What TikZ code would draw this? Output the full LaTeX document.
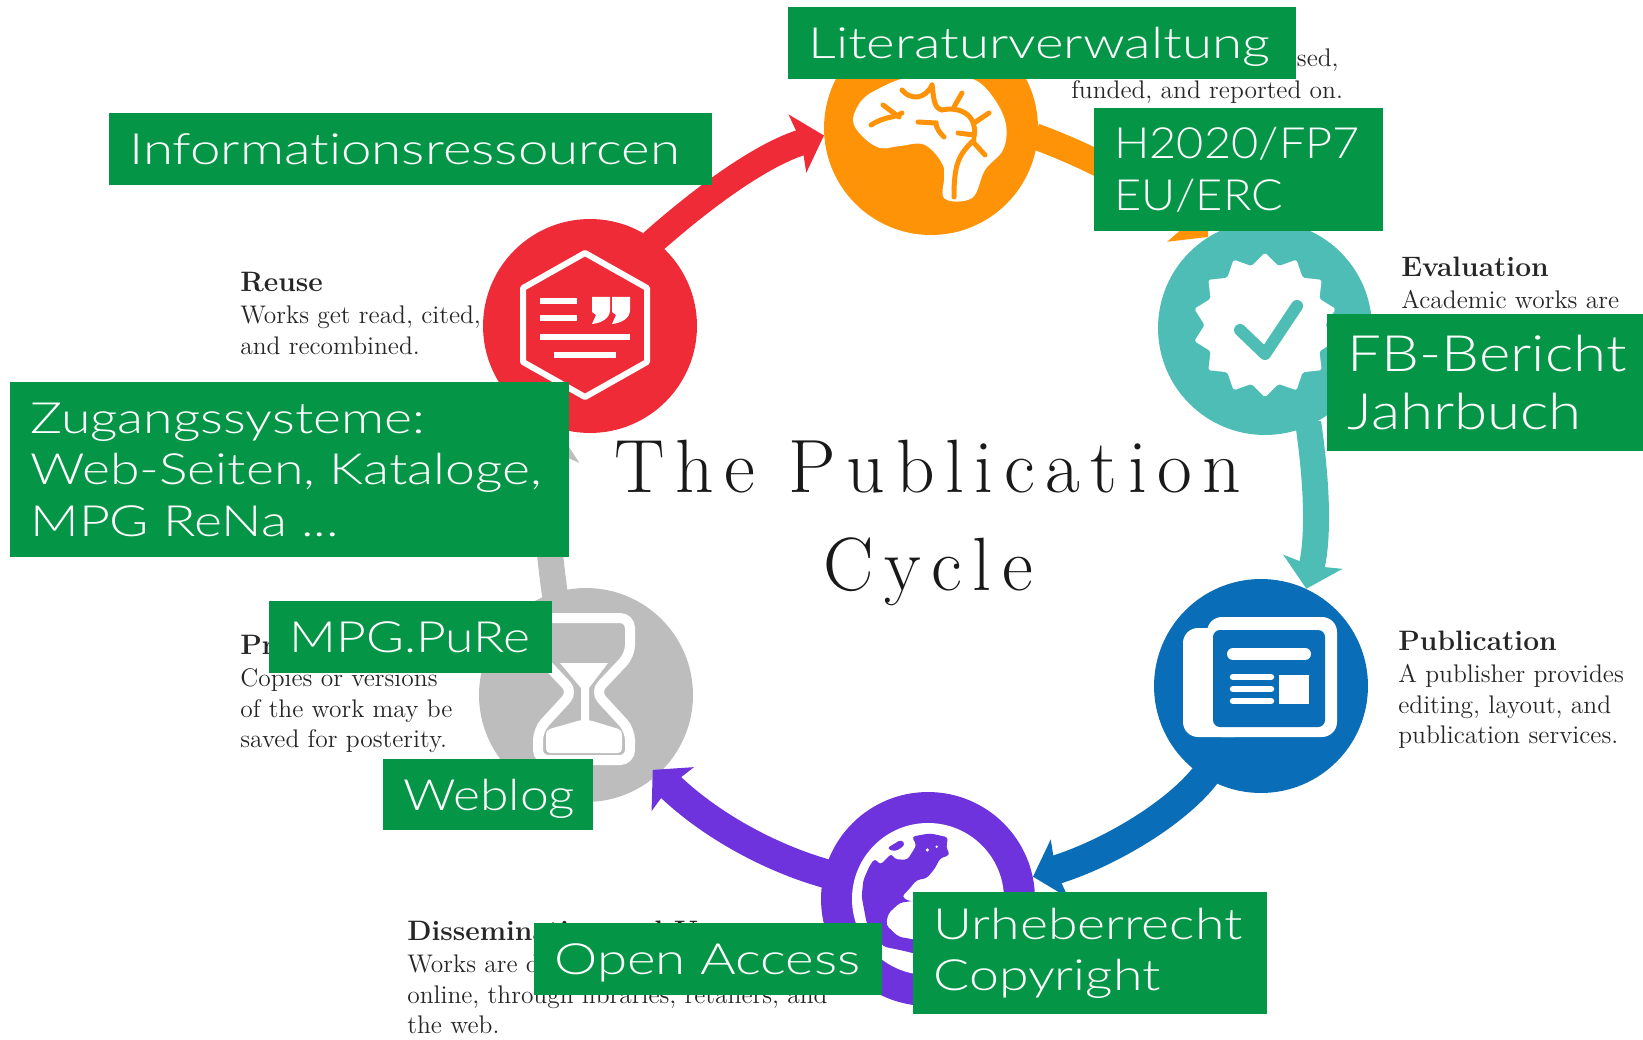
\documentclass[tikz,border=0pt]{standalone}
\usepackage{fontspec}
\usepackage{tikz}
\usetikzlibrary{arrows.meta,shapes.geometric}
\newfontfamily\boxfont[FakeStretch=1.2,Ligatures=CommonOff]{Lato Light}
\newfontfamily\boxfontmid[FakeStretch=1.245,Ligatures=CommonOff]{Lato Light}
\newfontfamily\boxfontwide[FakeStretch=1.27,Ligatures=CommonOff]{Lato Light}
\newfontfamily\boxfontnarrow[FakeStretch=1.09,Ligatures=CommonOff]{Lato Light}
\newfontfamily\titlefont[LetterSpace=14]{Latin Modern Roman}
\newcommand{\caphead}[1]{{\fontsize{16}{17.5}\selectfont\bfseries #1}\\[0.5pt]}
\definecolor{cyclered}{HTML}{EF2B38}
\definecolor{cycleorange}{HTML}{FF9308}
\definecolor{cycleteal}{HTML}{4DBDB5}
\definecolor{cycleblue}{HTML}{0A6DB7}
\definecolor{cyclepurple}{HTML}{6F33DD}
\definecolor{cyclegray}{HTML}{BDBDBD}
\definecolor{boxgreen}{HTML}{049646}
\tikzset{
    cyclecircle/.style={circle,inner sep=0pt,minimum size=4.28cm},
    cyclearrow/.style={line width=0.52cm,shorten <=-2pt,-{Stealth[length=0.55cm,width=1.2cm,inset=0.08cm]}},
    caption/.style={anchor=north west,inner sep=0pt,align=left,text=black!85,font=\fontsize{14.5}{17.5}\selectfont},
    greenbox/.style={anchor=north west,fill=boxgreen,text=white,align=left,inner xsep=0.4cm,inner ysep=0pt,font=\boxfontwide\fontsize{24.5}{29.5}\selectfont},
    iconline/.style={draw=white,line width=0.12cm},
}
\begin{document}
\begin{tikzpicture}[x=0.02cm,y=-0.02cm]
    \useasboundingbox (0,0) rectangle (1643,1040);

    \node[cyclecircle,fill=cycleorange] (idea) at (931,128) {};
    \node[cyclecircle,fill=cycleteal] (evaluation) at (1265,328) {};
    \node[cyclecircle,fill=cycleblue] (publication) at (1261,686) {};
    \node[cyclecircle,fill=cyclepurple] (dissemination) at (928,899) {};
    \node[cyclecircle,fill=cyclegray] (preservation) at (586,695) {};
    \node[cyclecircle,fill=cyclered] (reuse) at (590,326) {};

    \draw[cyclearrow,cyclered] (reuse.53) .. controls (700,200) and (760,155) .. (idea.184);
    \draw[cyclearrow,cycleorange] (idea.-5) .. controls (1100,160) and (1160,195) .. (evaluation.122);
    \draw[cyclearrow,cycleteal] (evaluation.-66) .. controls (1318,490) and (1318,540) .. (publication.65);
    \draw[cyclearrow,cycleblue,line width=0.58cm] (publication.238) .. controls (1175,815) and (1105,855) .. (dissemination.12);
    \draw[cyclearrow,cyclepurple,line width=0.58cm,shorten >=-4pt] (dissemination.166) .. controls (770,858) and (710,825) .. (preservation.-48);
    \draw[cyclearrow,cyclegray] (preservation.107) .. controls (546,530) and (543,480) .. (reuse.252);

    % brain
    \fill[white] plot[smooth cycle,tension=0.6] coordinates {(944,198) (944,168) (925,145) (900,146) (880,148) (862,136) (853,120) (862,100) (880,88) (905,78) (940,74) (975,80) (995,100) (1006,125) (1003,150) (985,170) (972,198)};
    \fill[white] (944,165) rectangle (970,198);
    \begin{scope}[cycleorange,line width=0.1cm,line cap=round]
        \draw (871,125) .. controls (885,116) and (895,118) .. (902,113);
        \draw (883,105) -- (899,117);
        \draw (902,90) .. controls (910,100) and (925,100) .. (932,85);
        \draw (932,85) .. controls (934,100) and (934,108) .. (942,110) .. controls (960,106) and (978,115) .. (974,137);
        \draw (918,122) -- (936,123) .. controls (936,128) and (940,133) .. (944,137);
        \draw (962,93) -- (954,107);
        \draw (989,113) -- (974,123);
        \draw (958,133) -- (974,135);
        \draw (954,197) .. controls (954,165) and (958,155) .. (974,140);
        \draw (974,143) -- (985,155);
    \end{scope}

    % badge
    \node[star,star points=14,star point ratio=1.2,minimum size=2.9cm,inner sep=0pt,fill=white,rounded corners=1pt] (badge) at (1265,325) {};
    \draw[cycleteal,line width=0.24cm,line cap=round,line join=round] (1240,330) -- (1265,354) -- (1297,306);

    % newspaper
    \fill[white,rounded corners=0.3cm] (1183,628) rectangle (1250,737);
    \fill[white,rounded corners=0.3cm] (1207,617) rectangle (1337,737);
    \fill[cycleblue,rounded corners=0.14cm] (1213,630) rectangle (1325,727);
    \draw[white,line width=0.24cm,line cap=round] (1233,654) -- (1305,654);
    \draw[white,line width=0.13cm,line cap=round] (1233,677) -- (1271,677);
    \draw[white,line width=0.13cm,line cap=round] (1233,689) -- (1271,689);
    \draw[white,line width=0.13cm,line cap=round] (1233,701) -- (1271,701);
    \fill[white] (1279,675) rectangle (1309,704);

    % globe
    \fill[white] (dissemination.center) circle (76);
    \begin{scope}[shift={(820,790)},x=0.00667cm,y=-0.00667cm]
        \fill[cyclepurple,rounded corners=2pt] (130,270) -- (150,225) -- (165,205) -- (180,225) -- (215,190) -- (222,207) -- (262,210) -- (290,165) -- (275,140) -- (330,130) -- (385,142) -- (378,170) -- (390,195) -- (360,205) -- (345,235) -- (320,265) -- (290,270) -- (265,300) -- (245,320) -- (270,335) -- (300,330) -- (240,338) -- (205,370) -- (198,405) -- (235,440) -- (290,450) -- (290,492) -- (240,480) -- (190,470) -- (140,400) -- (125,320) -- cycle;
        \fill[cyclepurple,rounded corners=2pt] (200,175) -- (245,148) -- (256,165) -- (225,185) -- cycle;
        \fill[white] (322,180) circle (5);
        \fill[white] (350,170) circle (4);
    \end{scope}

    % hourglass
    \draw[white,line width=0.2cm,rounded corners=0.2cm] (540,618) -- (630,618) -- (630,655) -- (595,692) -- (630,730) -- (630,760) -- (538,760) -- (538,730) -- (573,692) -- (538,655) -- cycle;
    \fill[white] (560,663) -- (608,663) -- (589,688) -- (589,722) -- (581,722) -- (581,688) -- cycle;
    \fill[white,rounded corners=0.08cm] (581,720) -- (589,720) -- (622,730) -- (622,753) -- (546,753) -- (546,730) -- cycle;

    % hexagon with quote
    \draw[white,line width=0.12cm,line join=round] (585,253) -- (647,288) -- (647,362) -- (585,397) -- (523,362) -- (523,288) -- cycle;
    \draw[iconline] (540,301) -- (577,301);
    \draw[iconline] (540,318) -- (577,318);
    \draw[iconline] (540,337) -- (630,337);
    \draw[iconline] (554,355) -- (616,355);
    \fill[white] (592,297) -- (610,297) -- (610,310) .. controls (610,318) and (602,323) .. (592,324) -- (596,315) -- (592,312) -- cycle;
    \fill[white] (612,297) -- (630,297) -- (630,310) .. controls (630,318) and (622,323) .. (612,324) -- (616,315) -- (612,312) -- cycle;

    \node[align=center,text=black!90,font=\titlefont\fontsize{43}{56}\selectfont] (cycletitle) at (928,523) {The Publication\\Cycle};

    \node[caption] (capreuse) at (240,272) {\caphead{Reuse}Works get read, cited,\\and recombined.};
    \node[caption] (capevaluation) at (1401,257) {\caphead{Evaluation}Academic works are};
    \node[caption] (cappublication) at (1398,631) {\caphead{Publication}A publisher provides\\editing, layout, and\\publication services.};
    \node[caption] (cappreservation) at (240,635) {\caphead{Pr}Copies or versions\\of the work may be\\saved for posterity.};
    \node[caption] (capdissemination) at (407,921) {\caphead{Dissemination and Use}Works are d\\online, through libraries, retailers, and\\the web.};
    \node[caption] (capideafunded) at (1071,80) {funded, and reported on.};
    \node[caption,anchor=north east] (capideased) at (1339,48) {sed,};

    \node[greenbox,text width=9.36cm,minimum height=1.44cm,text depth=0pt] (literatur) at (788,7) {Literaturverwaltung};
    \node[greenbox,text width=4.98cm,minimum height=2.46cm,font=\boxfontnarrow\fontsize{24.5}{29.5}\selectfont] (funding) at (1094,108) {H2020/FP7\\EU/ERC};
    \node[greenbox,text width=11.26cm,minimum height=1.44cm] (ressourcen) at (109,113) {Informationsressourcen};
    \node[greenbox,text width=5.52cm,minimum height=2.74cm,font=\boxfont\fontsize{28.5}{33}\selectfont] (bericht) at (1327,314) {\mbox{FB-Bericht}\\Jahrbuch};
    \node[greenbox,text width=10.38cm,minimum height=3.5cm,font=\boxfontmid\fontsize{24.5}{29.5}\selectfont] (zugang) at (10,382) {Zugangssysteme:\\\mbox{Web-Seiten, Kataloge,}\\MPG ReNa ...};
    \node[greenbox,text width=4.86cm,minimum height=1.44cm,font=\boxfont\fontsize{24.5}{29.5}\selectfont] (pure) at (269,601) {MPG.PuRe};
    \node[greenbox,text width=3.4cm,minimum height=1.42cm,text depth=0pt,font=\boxfont\fontsize{24.5}{29.5}\selectfont] (weblog) at (383,759) {Weblog};
    \node[greenbox,text width=6.16cm,minimum height=1.44cm,text depth=0pt] (openaccess) at (534,923) {Open Access};
    \node[greenbox,text width=6.28cm,minimum height=2.44cm,font=\boxfontmid\fontsize{24.5}{29.5}\selectfont] (copyright) at (913,892) {Urheberrecht\\Copyright};
\end{tikzpicture}
\end{document}
